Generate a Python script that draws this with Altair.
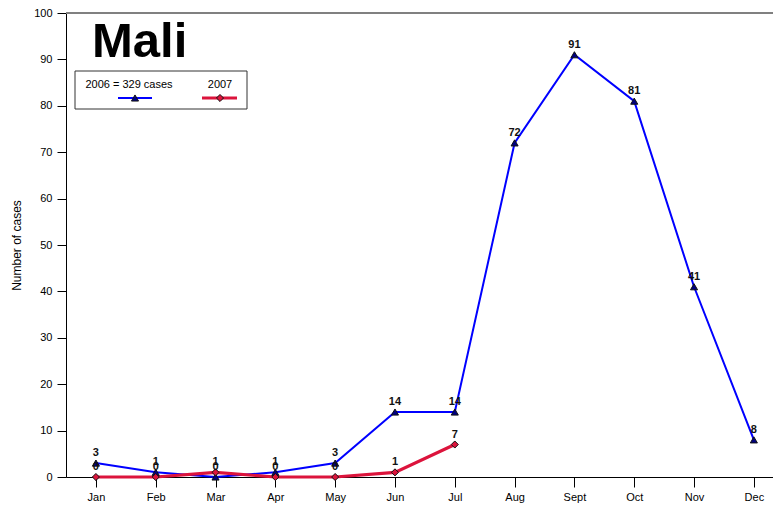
import altair as alt
import pandas as pd

months = ["Jan", "Feb", "Mar", "Apr", "May", "Jun", "Jul", "Aug", "Sept", "Oct", "Nov", "Dec"]
cases_2006 = [3, 1, 0, 1, 3, 14, 14, 72, 91, 81, 41, 8]
cases_2007 = [0, 0, 1, 0, 0, 1, 7]
series_names = ["2006", "2007"]

rows = []
for i, v in enumerate(cases_2006):
    rows.append({"idx": i, "month": months[i], "cases": v, "series": "2006"})
for i, v in enumerate(cases_2007):
    rows.append({"idx": i, "month": months[i], "cases": v, "series": "2007"})
df = pd.DataFrame(rows)

FONT = "Liberation Sans"
W, H = 707, 464
month_expr = "[" + ",".join("'%s'" % m for m in months) + "][datum.value]"

x = alt.X("idx:Q",
          scale=alt.Scale(domain=[-0.5, 11.32], nice=False, zero=False),
          axis=alt.Axis(values=list(range(12)), labelExpr=month_expr, title=None,
                        grid=False, domainColor="black", tickColor="black",
                        tickSize=10, labelPadding=4, labelFontSize=11,
                        labelColor="black", labelFont=FONT, domainWidth=1))
y = alt.Y("cases:Q",
          scale=alt.Scale(domain=[0, 100], nice=False),
          axis=alt.Axis(values=list(range(0, 101, 5)),
                        labelExpr="datum.value % 10 == 0 ? datum.label : ''",
                        tickSize=alt.expr("datum.value % 10 == 0 ? 9 : 6"),
                        title="Number of cases", titleFontWeight="normal",
                        titleFontSize=12, titleFont=FONT, titleColor="black",
                        titlePadding=10, grid=False, domainColor="black",
                        tickColor="black", labelPadding=5, labelFontSize=11,
                        labelColor="black", labelFont=FONT))

color = alt.Color("series:N", scale=alt.Scale(domain=series_names, range=["#0000FF", "#DC143C"]), legend=None)
shape = alt.Shape("series:N", scale=alt.Scale(domain=series_names, range=["triangle-up", "diamond"]), legend=None)
fill = alt.Fill("series:N", scale=alt.Scale(domain=series_names, range=["#000080", "#DC143C"]), legend=None)
MSIZE = 50

base = alt.Chart(df)

lines = base.mark_line().encode(
    x=x, y=y, color=color,
    strokeWidth=alt.StrokeWidth("series:N", scale=alt.Scale(domain=series_names, range=[2, 3.2]), legend=None),
)
pts = base.mark_point(filled=True, strokeWidth=1, opacity=1).encode(
    x=x, y=y, shape=shape, fill=fill,
    stroke=alt.value("#111111"),
    size=alt.value(MSIZE),
)
labels = base.mark_text(font=FONT, fontSize=11, fontWeight="bold", dy=-10, color="#111111").encode(
    x=x, y=y, text="cases:Q")

top_rule = alt.Chart(pd.DataFrame({"v": [100]})).mark_rule(color="#808080", strokeWidth=2).encode(
    y=alt.Y("v:Q", scale=alt.Scale(domain=[0, 100])), x=alt.value(0), x2=alt.value(W))

title = alt.Chart(pd.DataFrame({"t": ["Mali"]})).mark_text(
    font=FONT, fontSize=49, fontWeight="bold", align="left", baseline="alphabetic", color="black"
).encode(text="t:N", x=alt.value(26), y=alt.value(44))

# legend box
leg_box = alt.Chart(pd.DataFrame({"a": [1]})).mark_rect(fill="white", stroke="#333333", strokeWidth=1).encode(
    x=alt.value(9), x2=alt.value(181), y=alt.value(58), y2=alt.value(96))
leg_text = alt.Chart(pd.DataFrame({"t": ["2006 = 329 cases", "2007"], "px": [63, 154]})).mark_text(
    font=FONT, fontSize=11, color="black", align="center").encode(
    text="t:N", x=alt.X("px:Q", scale=None), y=alt.value(72))
leg_line = alt.Chart(pd.DataFrame({"series": series_names, "x1": [52, 136], "x2": [86, 171], "w": [2, 3.2]})).mark_rule().encode(
    x=alt.X("x1:Q", scale=None), x2="x2:Q", y=alt.value(85),
    color=color,
    strokeWidth=alt.StrokeWidth("w:Q", scale=None))
leg_pts = alt.Chart(pd.DataFrame({"series": series_names, "px": [69, 154]})).mark_point(
    filled=True, strokeWidth=1, opacity=1).encode(
    x=alt.X("px:Q", scale=None), y=alt.value(85),
    shape=shape, fill=fill,
    stroke=alt.value("#111111"), size=alt.value(MSIZE))

chart = alt.layer(top_rule, lines, pts, labels, title, leg_box, leg_line, leg_pts, leg_text).properties(
    width=W, height=H,
    autosize=alt.AutoSizeParams(type="none"),
    padding={"left": 58, "top": 5, "right": 0, "bottom": 32},
).configure_view(stroke=None).configure(background="white")

chart.save("out.html", embed_options={"renderer": "svg", "actions": False})
